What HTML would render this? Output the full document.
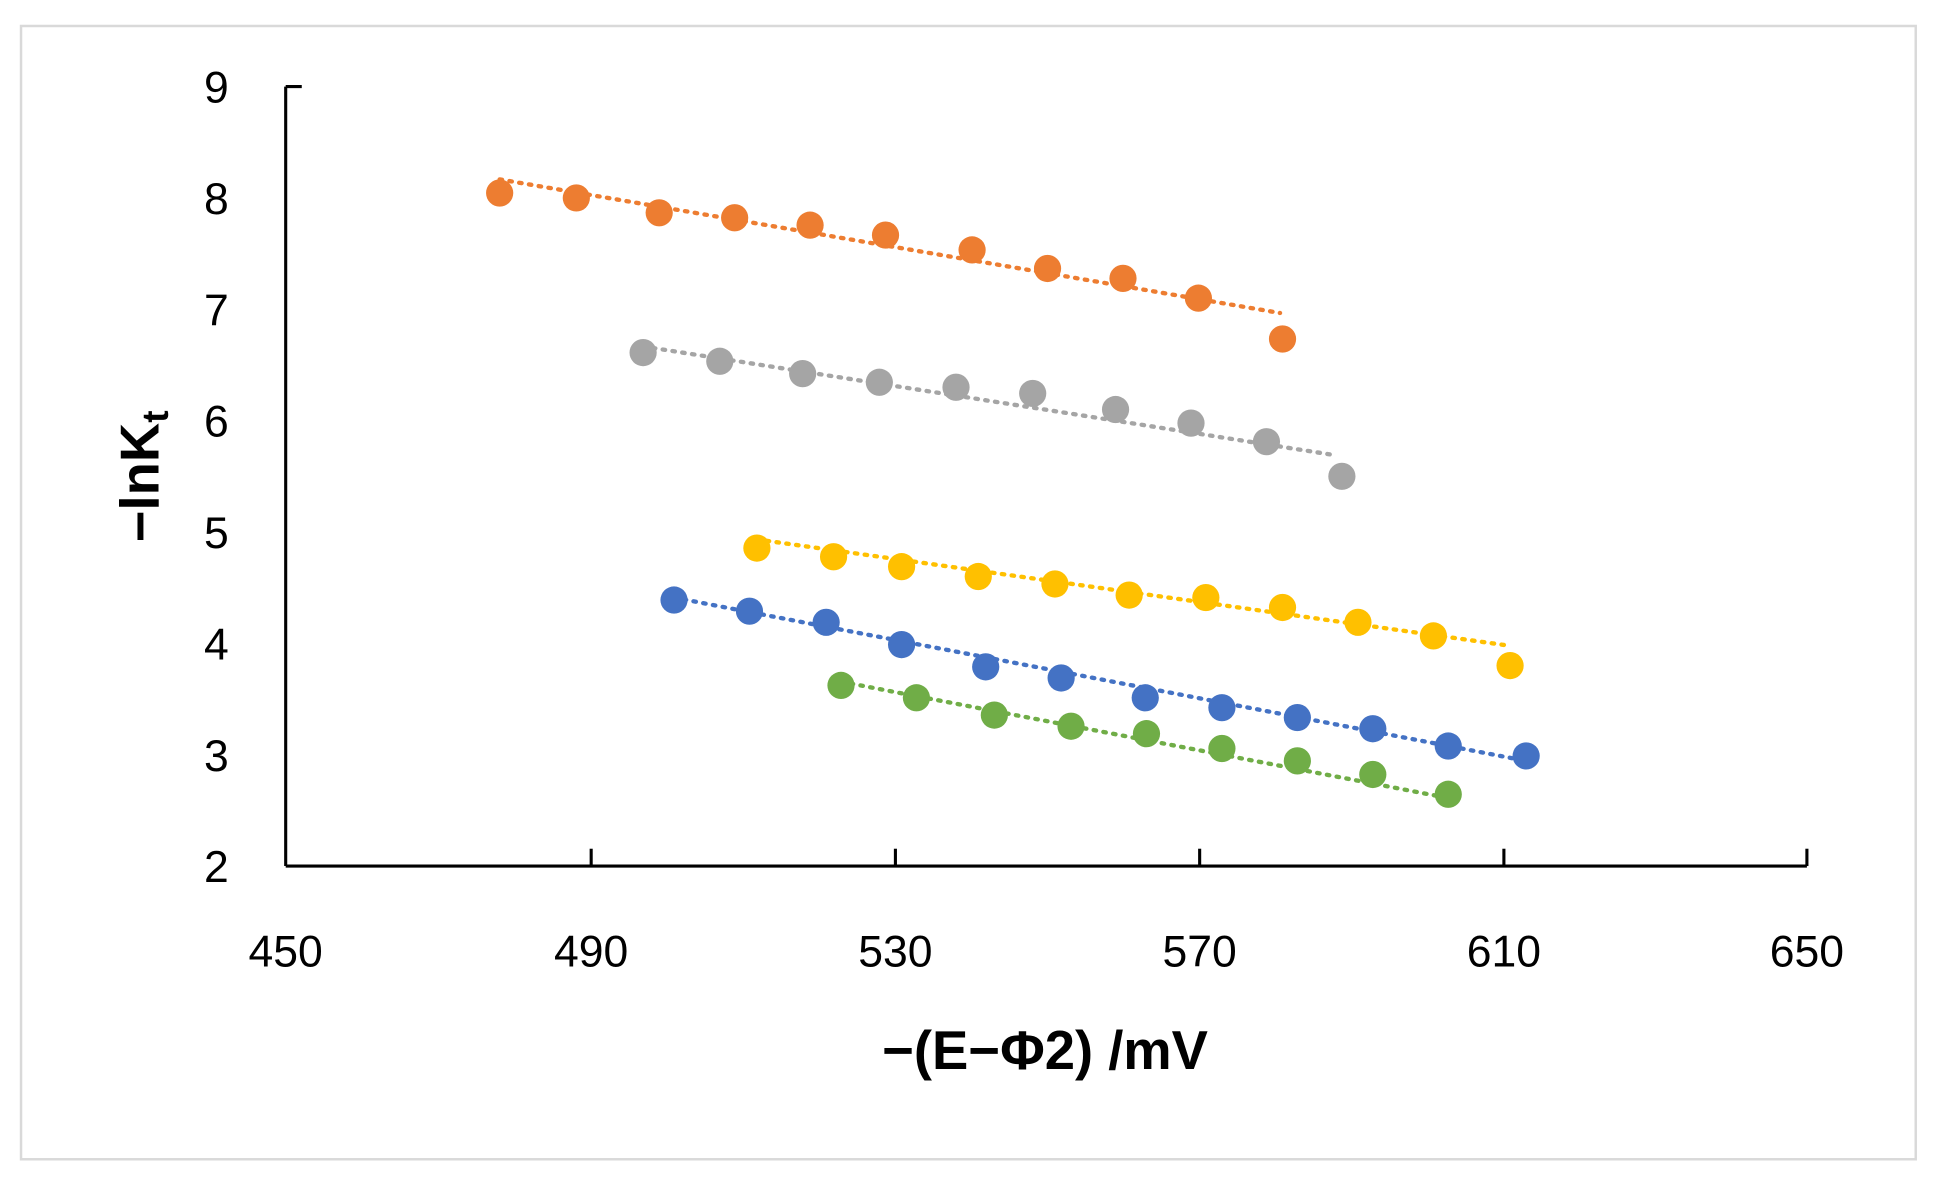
<!DOCTYPE html>
<html><head><meta charset="utf-8"><style>html,body{margin:0;padding:0;background:#fff}svg{display:block}</style></head>
<body>
<svg width="1938" height="1184" viewBox="0 0 1567 957" preserveAspectRatio="none" xmlns="http://www.w3.org/2000/svg" font-family="Liberation Sans, sans-serif">
<rect x="0" y="0" width="1567" height="957" fill="#fff"/>
<rect x="17" y="21" width="1532" height="916" fill="none" stroke="#d9d9d9" stroke-width="2"/>
<g stroke="#000" stroke-width="2.5" fill="none">
<line x1="231" y1="70" x2="231" y2="700"/>
<line x1="231" y1="700" x2="1461" y2="700"/>
<line x1="231" y1="70" x2="244" y2="70"/>
<line x1="478" y1="700" x2="478" y2="686"/><line x1="724" y1="700" x2="724" y2="686"/><line x1="970" y1="700" x2="970" y2="686"/><line x1="1216" y1="700" x2="1216" y2="686"/><line x1="1461" y1="700" x2="1461" y2="686"/>
</g>
<g font-size="36" fill="#000" text-anchor="end">
<text x="185" y="83">9</text><text x="185" y="173">8</text><text x="185" y="263">7</text><text x="185" y="353">6</text><text x="185" y="443">5</text><text x="185" y="533">4</text><text x="185" y="623">3</text><text x="185" y="713">2</text>
</g>
<g font-size="36" fill="#000" text-anchor="middle">
<text x="231" y="781">450</text><text x="478" y="781">490</text><text x="724" y="781">530</text><text x="970" y="781">570</text><text x="1216" y="781">610</text><text x="1461" y="781">650</text>
</g>
<text x="845" y="864" font-size="44" font-weight="bold" text-anchor="middle">−(E−Φ2) /mV</text>
<text transform="translate(128,385) rotate(-90)" font-size="44" font-weight="bold" text-anchor="middle">−lnK<tspan font-size="30" dy="8">t</tspan></text>
<g stroke-width="3.5" stroke-dasharray="2 6" stroke-linecap="round" fill="none">
<line x1="404" y1="145" x2="1035" y2="253" stroke="#ED7D31"/>
<line x1="520" y1="280" x2="1080" y2="368" stroke="#A5A5A5"/>
<line x1="612" y1="436" x2="1221" y2="522" stroke="#FFC000"/>
<line x1="545" y1="483" x2="1234" y2="615" stroke="#4472C4"/>
<line x1="680" y1="551" x2="1171" y2="645" stroke="#70AD47"/>
</g>
<g fill="#ED7D31">
<circle cx="404" cy="156" r="11"/><circle cx="466" cy="160" r="11"/><circle cx="533" cy="172" r="11"/><circle cx="594" cy="176" r="11"/><circle cx="655" cy="182" r="11"/><circle cx="716" cy="190" r="11"/><circle cx="786" cy="202" r="11"/><circle cx="847" cy="217" r="11"/><circle cx="908" cy="225" r="11"/><circle cx="969" cy="241" r="11"/><circle cx="1037" cy="274" r="11"/>
</g>
<g fill="#A5A5A5">
<circle cx="520" cy="285" r="11"/><circle cx="582" cy="292" r="11"/><circle cx="649" cy="302" r="11"/><circle cx="711" cy="309" r="11"/><circle cx="773" cy="313" r="11"/><circle cx="835" cy="318" r="11"/><circle cx="902" cy="331" r="11"/><circle cx="963" cy="342" r="11"/><circle cx="1024" cy="357" r="11"/><circle cx="1085" cy="385" r="11"/>
</g>
<g fill="#FFC000">
<circle cx="612" cy="443" r="11"/><circle cx="674" cy="450" r="11"/><circle cx="729" cy="458" r="11"/><circle cx="791" cy="466" r="11"/><circle cx="853" cy="472" r="11"/><circle cx="913" cy="481" r="11"/><circle cx="975" cy="483" r="11"/><circle cx="1037" cy="491" r="11"/><circle cx="1098" cy="503" r="11"/><circle cx="1159" cy="514" r="11"/><circle cx="1221" cy="538" r="11"/>
</g>
<g fill="#4472C4">
<circle cx="545" cy="485" r="11"/><circle cx="606" cy="494" r="11"/><circle cx="668" cy="503" r="11"/><circle cx="729" cy="521" r="11"/><circle cx="797" cy="539" r="11"/><circle cx="858" cy="548" r="11"/><circle cx="926" cy="564" r="11"/><circle cx="988" cy="572" r="11"/><circle cx="1049" cy="580" r="11"/><circle cx="1110" cy="589" r="11"/><circle cx="1171" cy="603" r="11"/><circle cx="1234" cy="611" r="11"/>
</g>
<g fill="#70AD47">
<circle cx="680" cy="554" r="11"/><circle cx="741" cy="564" r="11"/><circle cx="804" cy="578" r="11"/><circle cx="866" cy="587" r="11"/><circle cx="927" cy="593" r="11"/><circle cx="988" cy="605" r="11"/><circle cx="1049" cy="615" r="11"/><circle cx="1110" cy="626" r="11"/><circle cx="1171" cy="642" r="11"/>
</g>
</svg>
</body></html>
